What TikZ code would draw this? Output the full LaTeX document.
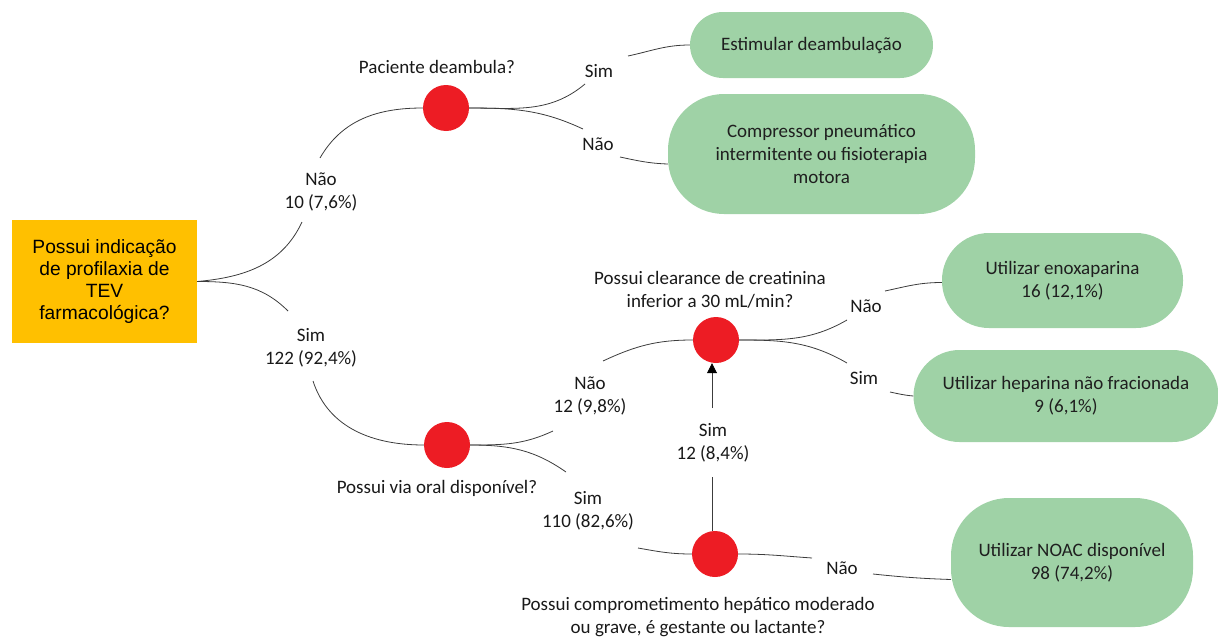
\documentclass[tikz,border=0pt]{standalone}
\usepackage{fontspec}
\setmainfont{Carlito}
\newfontfamily\arialf{Liberation Sans}
\usetikzlibrary{arrows.meta}
\definecolor{gfill}{RGB}{159,210,166}
\definecolor{ofill}{RGB}{255,192,0}
\definecolor{rfill}{RGB}{237,28,36}
\definecolor{lcol}{RGB}{60,60,60}
\begin{document}
\begin{tikzpicture}[x=1pt,y=1pt,
  lbl/.style={align=center,inner sep=0pt,font=\fontsize{19}{23.3}\selectfont,text=black!90},
  dot/.style={circle,fill=rfill,minimum size=46pt,inner sep=0pt},
  res/.style={fill=gfill,rounded corners=46pt,align=center,inner sep=0pt,font=\fontsize{19}{23.3}\selectfont,text=black!88},
  link/.style={draw=lcol,line width=0.8pt}
]
\useasboundingbox (0,0) rectangle (1218,-637);

% start box
\node[fill=ofill,minimum width=185pt,minimum height=123pt,inner sep=0pt,align=center,
  font=\arialf\fontsize{19.2}{21.7}\selectfont] (ob) at (104.5,-281.5)
  {Possui indicação\\de profilaxia de\\TEV\\farmacológica?};

% decision dots
\node[dot] (c1) at (446,-108) {};
\node[dot] (c2) at (716,-340) {};
\node[dot] (c3) at (447,-445) {};
\node[dot] (c4) at (715,-554) {};

% questions
\node[lbl] (q1) at (437,-67) {Paciente deambula?};
\node[lbl] (q2) at (710,-290) {Possui clearance de creatinina\\inferior a 30 mL/min?};
\node[lbl] (q3) at (437,-488) {Possui via oral disponível?};
\node[lbl] (q4) at (698,-617) {Possui comprometimento hepático moderado\\ou grave, é gestante ou lactante?};

% branch labels
\node[lbl] (l1) at (321,-192) {Não\\10 (7,6\%)};
\node[lbl] (l2) at (311,-348) {Sim\\122 (92,4\%)};
\node[lbl] (l3) at (599,-71) {Sim};
\node[lbl] (l4) at (598,-144) {Não};
\node[lbl] (l5) at (590,-396) {Não\\12 (9,8\%)};
\node[lbl] (l6) at (588,-511) {Sim\\110 (82,6\%)};
\node[lbl] (l7) at (866,-306) {Não};
\node[lbl] (l8) at (864,-378) {Sim};
\node[lbl] (l9) at (713,-443) {Sim\\12 (8,4\%)};
\node[lbl] (l10) at (842,-568) {Não};

% outcomes
\node[res,rounded corners=33pt,minimum width=243pt,minimum height=66pt] (g1) at (811.5,-45) {Estimular deambulação};
\node[res,rounded corners=56pt,minimum width=307pt,minimum height=120pt] (g2) at (821.5,-154) {Compressor pneumático\\intermitente ou fisioterapia\\motora};
\node[res,rounded corners=47pt,minimum width=241pt,minimum height=95pt] (g3) at (1062.5,-280.5) {Utilizar enoxaparina\\16 (12,1\%)};
\node[res,rounded corners=46pt,minimum width=305pt,minimum height=92pt] (g4) at (1066,-396) {Utilizar heparina não fracionada\\9 (6,1\%)};
\node[res,rounded corners=58pt,minimum width=242pt,minimum height=129pt] (g5) at (1072,-562.5) {Utilizar NOAC disponível\\98 (74,2\%)};

% free ends near labels
\coordinate (e1) at (302,-222);
\coordinate (e2) at (288,-311);
\coordinate (e3) at (320,-158);
\coordinate (e4) at (585,-84);
\coordinate (e5) at (583,-129);
\coordinate (e6) at (628,-56);
\coordinate (e7) at (620,-157);
\coordinate (e8) at (313,-381);
\coordinate (e9) at (553,-431);
\coordinate (e10) at (566,-472);
\coordinate (e11) at (603,-361);
\coordinate (e12) at (847,-320);
\coordinate (e13) at (847,-363);
\coordinate (e14) at (885,-291);
\coordinate (e15) at (890,-392);
\coordinate (e16) at (712,-408);
\coordinate (e17) at (712,-477);
\coordinate (e18) at (638,-548);
\coordinate (e19) at (812,-558);
\coordinate (e20) at (873,-574);

% connectors
\draw[link] (ob.east) to[out=5,in=-115] (e1);
\draw[link] (ob.east) to[out=0,in=135] (e2);
\draw[link] (e3) to[out=60,in=180] (c1.west);
\draw[link] (c1.east) to[out=0,in=-140] (e4);
\draw[link] (c1.east) to[out=0,in=155] (e5);
\draw[link] (e6) to[out=12,in=180] (g1.west);
\draw[link] (e7) to[out=-12,in=178] ([yshift=-10pt]g2.west);
\draw[link] (e8) to[out=-72,in=180] (c3.west);
\draw[link] (c3.east) to[out=0,in=-155] (e9);
\draw[link] (c3.east) to[out=0,in=145] (e10);
\draw[link] (e11) to[out=25,in=180] (c2.west);
\draw[link] (c2.east) to[out=0,in=-150] (e12);
\draw[link] (c2.east) to[out=0,in=150] (e13);
\draw[link] (e14) to[out=12,in=180] ([yshift=-2pt]g3.west);
\draw[link] (e15) to[out=-12,in=175] (g4.west);
\draw[link,-{Triangle[length=10pt,width=10pt,color=black]}] (e16) -- (e16 |- c2.south);
\draw[link] (e17 |- c4.north) -- (e17);
\draw[link] (e18) to[out=-10,in=180] (c4.west);
\draw[link] (c4.east) to[out=0,in=176] (e19);
\draw[link] (e20) to[out=-6,in=178] ([yshift=-17pt]g5.west);
\end{tikzpicture}
\end{document}
